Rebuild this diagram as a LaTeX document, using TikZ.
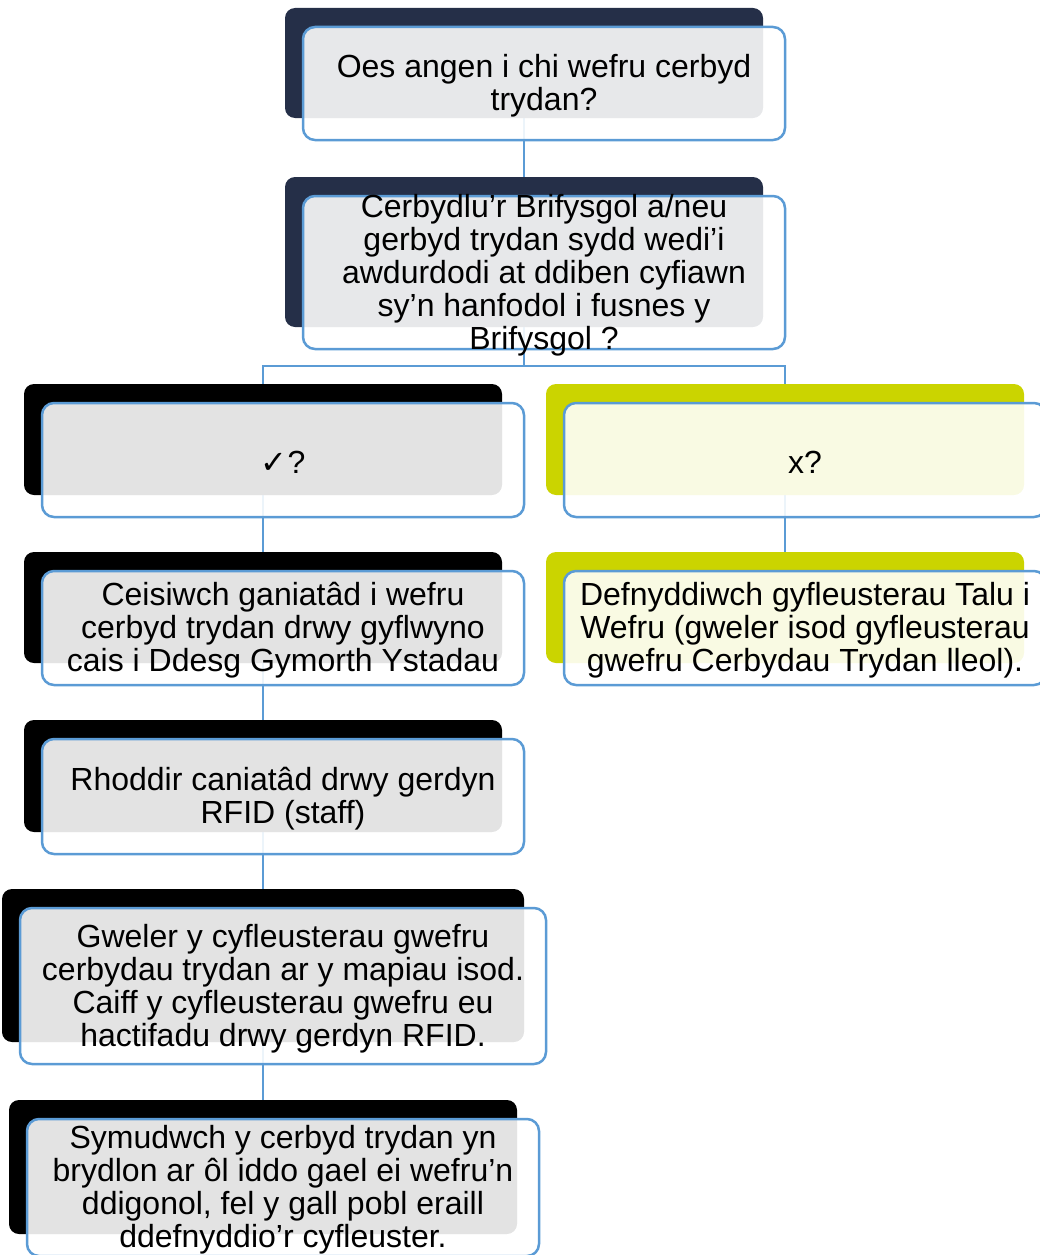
\documentclass[tikz,border=0pt]{standalone}
\usepackage{fontspec}
\setmainfont{Liberation Sans}
\newfontfamily\symfont{DejaVu Sans}
\usetikzlibrary{fit}
\definecolor{navy}{RGB}{37,47,72}
\definecolor{lime}{RGB}{203,212,0}
\definecolor{edgeblue}{RGB}{91,155,213}
\pgfdeclarelayer{bg}
\pgfsetlayers{bg,main}
\newcommand\flowbox[7]{%
  \node[backbox, fill=#6, fit={(#2,#3) (#4,#5)}] (b#1) {};
  \node[frontbox, fit={({#2+18},{#3+19}) ({#4+22},{#5+22})}] (f#1) {};
  \node[boxlabel] (t#1) at ([yshift=-2.5pt]f#1.center) {#7};
}
\begin{document}
\begin{tikzpicture}[x=1pt,y=-1pt,
  backbox/.style={rounded corners=10pt, inner sep=0pt, draw=none},
  frontbox/.style={draw=edgeblue, line width=2.5pt, fill=white, fill opacity=0.89, draw opacity=1, rounded corners=12pt, inner sep=0pt},
  conn/.style={draw=edgeblue, line width=2pt},
  boxlabel/.style={font=\fontsize{32}{33}\selectfont, align=center, text=black, inner sep=0pt}]
\clip (0,0) rectangle (1040,1255);

\flowbox{1}{285}{8}{763}{118}{navy}{Oes angen i chi wefru cerbyd\\trydan?}
\flowbox{2}{285}{177}{763}{327}{navy}{Cerbydlu’r Brifysgol a/neu\\gerbyd trydan sydd wedi’i\\awdurdodi at ddiben cyfiawn\\sy’n hanfodol i fusnes y\\Brifysgol ?}
\flowbox{3}{24}{384}{502}{495}{black}{{\symfont ✓}?}
\flowbox{4}{546}{384}{1024}{495}{lime}{x?}
\flowbox{5}{24}{552}{502}{663}{black}{Ceisiwch ganiatâd i wefru\\cerbyd trydan drwy gyflwyno\\cais i Ddesg Gymorth Ystadau}
\flowbox{6}{546}{552}{1024}{663}{lime}{Defnyddiwch gyfleusterau Talu i\\Wefru (gweler isod gyfleusterau\\gwefru Cerbydau Trydan lleol).}
\flowbox{7}{24}{720}{502}{832}{black}{Rhoddir caniatâd drwy gerdyn\\RFID (staff)}
\flowbox{8}{2}{889}{524}{1042}{black}{Gweler y cyfleusterau gwefru\\cerbydau trydan ar y mapiau isod.\\Caiff y cyfleusterau gwefru eu\\hactifadu drwy gerdyn RFID.}
\flowbox{9}{9}{1100}{517}{1234}{black}{Symudwch y cerbyd trydan yn\\brydlon ar ôl iddo gael ei wefru’n\\ddigonol, fel y gall pobl eraill\\ddefnyddio’r cyfleuster.}

\begin{pgfonlayer}{bg}
  \coordinate (j) at (524,366);
  \draw[conn] (b1.south) -- (b2.north);
  \draw[conn] (b2.south) -- (j);
  \draw[conn] (j) -| (b3.north);
  \draw[conn] (j) -| (b4.north);
  \draw[conn] (b3.south) -- (b5.north);
  \draw[conn] (b4.south) -- (b6.north);
  \draw[conn] (b5.south) -- (b7.north);
  \draw[conn] (b7.south) -- (b8.north);
  \draw[conn] (b8.south) -- (b9.north);
\end{pgfonlayer}
\end{tikzpicture}
\end{document}
